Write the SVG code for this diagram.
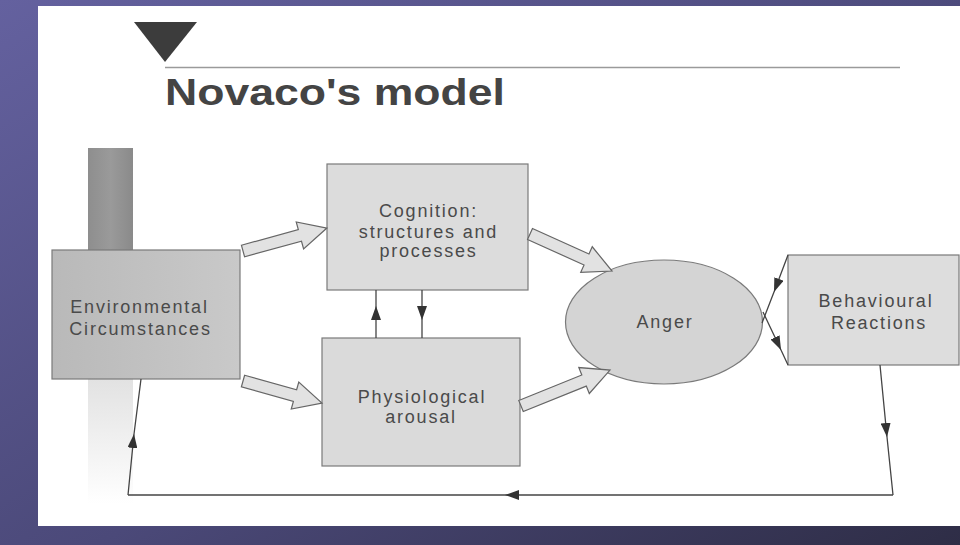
<svg xmlns="http://www.w3.org/2000/svg" width="960" height="545" viewBox="0 0 960 545">
  <style>
    .box { stroke: #7a7a7a; stroke-width: 1.2; }
    .lbl { font-family: "Liberation Sans", Arial, sans-serif; font-size: 18px; letter-spacing: 1.8px; fill: #4a4a4a; text-anchor: middle; }
    .blk { fill: #e2e2e2; stroke: #666; stroke-width: 1.2; stroke-linejoin: miter; }
    .ln { fill: none; stroke: #444; stroke-width: 1.3; }
  </style>
  <defs>
    <linearGradient id="bg" x1="0" y1="0" x2="1" y2="1">
      <stop offset="0" stop-color="#64619f"/>
      <stop offset="0.55" stop-color="#4b4979"/>
      <stop offset="1" stop-color="#2e2d46"/>
    </linearGradient>
    <linearGradient id="bar" x1="0" y1="0" x2="1" y2="0">
      <stop offset="0" stop-color="#8e8e8e"/>
      <stop offset="0.5" stop-color="#9a9a9a"/>
      <stop offset="1" stop-color="#8a8a8a"/>
    </linearGradient>
    <linearGradient id="barlow" x1="0" y1="0" x2="0" y2="1">
      <stop offset="0" stop-color="#e2e2e2"/>
      <stop offset="1" stop-color="#ffffff"/>
    </linearGradient>
    <linearGradient id="env" x1="0" y1="0" x2="1" y2="0">
      <stop offset="0" stop-color="#b9b9b9"/>
      <stop offset="1" stop-color="#c9c9c9"/>
    </linearGradient>
    <marker id="ah" markerWidth="14" markerHeight="10" refX="14" refY="5" orient="auto" markerUnits="userSpaceOnUse">
      <path d="M0,0 L14,5 L0,10 Z" fill="#333"/>
    </marker>
  </defs>

  <rect x="0" y="0" width="960" height="545" fill="url(#bg)"/>
  <rect x="38" y="6" width="922" height="520" fill="#ffffff"/>

  <g id="title">
    <polygon points="134,22 197,22 165,62" fill="#3c3c3c"/>
    <line x1="165" y1="67.5" x2="900" y2="67.5" stroke="#9a9a9a" stroke-width="1.5"/>
    <text x="165" y="105" font-family="'Liberation Sans', Arial, sans-serif" font-size="37" font-weight="bold" fill="#444" textLength="340" lengthAdjust="spacingAndGlyphs">Novaco's model</text>
  </g>

  <g id="env-bar">
    <rect x="88" y="148" width="45" height="102" fill="url(#bar)"/>
    <rect x="88" y="379" width="45" height="125" fill="url(#barlow)"/>
  </g>

  <g id="node-environmental">
    <rect class="box" x="52" y="250" width="188" height="129" fill="url(#env)"/>
    <text class="lbl" x="139.5" y="313">Environmental</text>
    <text class="lbl" x="140.5" y="335">Circumstances</text>
  </g>

  <g id="node-cognition">
    <rect class="box" x="327" y="164" width="201" height="126" fill="#dcdcdc"/>
    <text class="lbl" x="428.5" y="217">Cognition:</text>
    <text class="lbl" x="428.5" y="238">structures and</text>
    <text class="lbl" x="428.5" y="257">processes</text>
  </g>

  <g id="node-physiological">
    <rect class="box" x="322" y="338" width="198" height="128" fill="#dadada"/>
    <text class="lbl" x="422" y="403">Physiological</text>
    <text class="lbl" x="421" y="423">arousal</text>
  </g>

  <g id="node-anger">
    <ellipse class="box" cx="664" cy="322" rx="98.5" ry="62" fill="#d4d4d4"/>
    <text class="lbl" x="665" y="328">Anger</text>
  </g>

  <g id="node-behavioural">
    <rect class="box" x="788" y="255" width="171" height="110" fill="#dddddd"/>
    <text class="lbl" x="876" y="307">Behavioural</text>
    <text class="lbl" x="879" y="329">Reactions</text>
  </g>

  <g id="connectors">
    <path class="blk" transform="translate(243,251) rotate(-15.3)" d="M0,-6 L59,-6 L59,-14 L87,0 L59,14 L59,6 L0,6 Z"/>
    <path class="blk" transform="translate(243,381) rotate(15.6)" d="M0,-6 L54,-6 L54,-14 L82,0 L54,14 L54,6 L0,6 Z"/>
    <path class="blk" transform="translate(530,234) rotate(24.3)" d="M0,-6 L62,-6 L62,-14 L90,0 L62,14 L62,6 L0,6 Z"/>
    <path class="blk" transform="translate(521,406) rotate(-22)" d="M0,-6 L68,-6 L68,-14 L96,0 L68,14 L68,6 L0,6 Z"/>

    <path class="ln" d="M376,338 L376,306 L376,290" marker-mid="url(#ah)"/>
    <path class="ln" d="M422,290 L422,320 L422,338" marker-mid="url(#ah)"/>

    <path class="ln" d="M788,255 L774,292 L762,323" marker-mid="url(#ah)"/>
    <path class="ln" d="M763,312 L781,350 L788,365" marker-mid="url(#ah)"/>

    <path class="ln" d="M880,365 L887,437 L893,495" marker-mid="url(#ah)"/>
    <path class="ln" d="M893,495 L505,495 L128,495" marker-mid="url(#ah)"/>
    <path class="ln" d="M128,495 L134,434 L141,379" marker-mid="url(#ah)"/>
  </g>
</svg>
